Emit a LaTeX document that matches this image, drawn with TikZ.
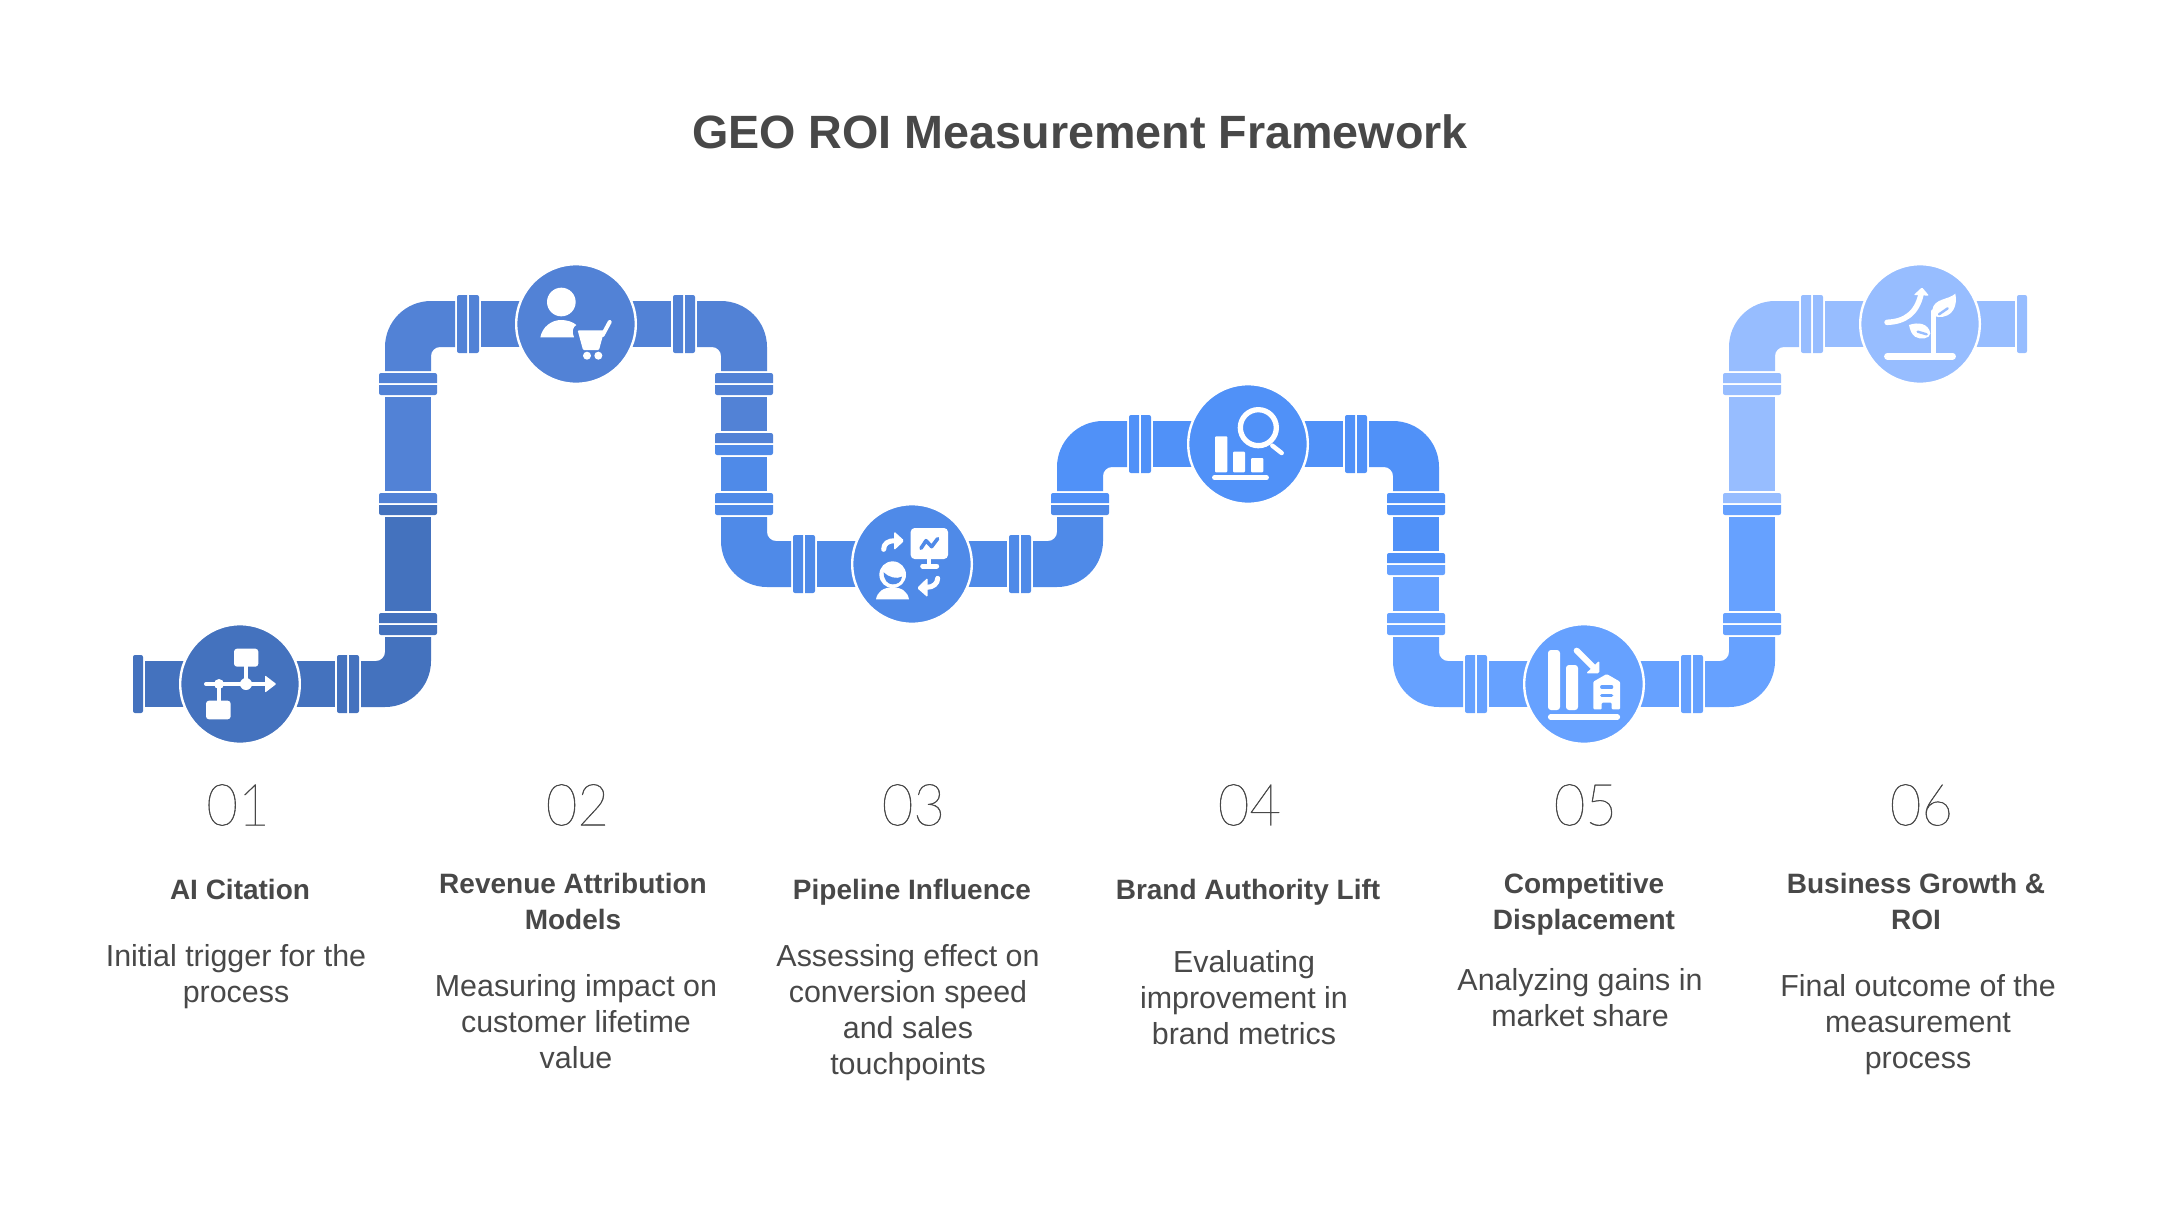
\documentclass[tikz,border=0pt]{standalone}
\usepackage{fontspec}
\setmainfont{Liberation Sans}
\newfontfamily\numfont[FakeStretch=0.94,RawFeature={embolden=0.7}]{Lato Thin}
\definecolor{ca}{HTML}{4472BE}
\definecolor{cb}{HTML}{5282D6}
\definecolor{cc}{HTML}{4F8AE8}
\definecolor{cd}{HTML}{5091F8}
\definecolor{ce}{HTML}{66A1FF}
\definecolor{cf}{HTML}{97BDFF}
\definecolor{ink}{HTML}{484848}
\newcommand{\elbow}[5]{\begin{scope}[shift={(#1,#2)},xscale=#3,yscale=#4]
\fill[#5] (-47,23) -- (-23,23) .. controls (2.4,23) and (23,2.4) .. (23,-23) -- (23,-47) -- (-23,-47) -- (-23,-32) .. controls (-23,-27) and (-27,-23) .. (-32,-23) -- (-47,-23) -- cycle;
\end{scope}}
\newcommand{\vfl}[4]{\begin{scope}[shift={(#1,#2)}]
\fill[#3] (-29,10) [rounded corners=2pt] -- (-29,0) -- (29,0) [sharp corners] -- (29,10) -- cycle;
\fill[#4] (-29,12) [rounded corners=2pt] -- (-29,22) -- (29,22) [sharp corners] -- (29,12) -- cycle;
\end{scope}}
\newcommand{\hfl}[3]{\begin{scope}[shift={(#1,#2)}]
\fill[#3] (10,-29) [rounded corners=2pt] -- (0,-29) -- (0,29) [sharp corners] -- (10,29) -- cycle;
\fill[#3] (12,-29) [rounded corners=2pt] -- (22,-29) -- (22,29) [sharp corners] -- (12,29) -- cycle;
\end{scope}}
\newcommand{\vp}[4]{\fill[#4] (#1-23,#2) rectangle (#1+23,#3);}
\newcommand{\hp}[3]{\fill[#3] (#1-95,#2-23) rectangle (#1+95,#2+23);}
\tikzset{hub/.style={circle,minimum size=119.6pt,inner sep=0pt,line width=2.4pt,draw=white},
 titletext/.style={font=\bfseries\fontsize{46.7}{52}\selectfont,text=ink,align=center},
 numtext/.style={font=\numfont\fontsize{58}{62}\selectfont,text=ink},
 headtext/.style={font=\bfseries\fontsize{28}{36}\selectfont,text=ink,align=center,inner sep=0pt,execute at begin node=\strut,execute at end node=\strut},
 bodytext/.style={font=\fontsize{30.4}{36}\selectfont,text=ink,align=center,inner sep=0pt,execute at begin node=\strut,execute at end node=\strut},
 ic/.style={white,line cap=round,line join=round}}
\begin{document}
\begin{tikzpicture}[x=1pt,y=-1pt]
\useasboundingbox (0,0) rectangle (2160,1224);
\node[titletext] (title) at (1080,132) {GEO ROI Measurement Framework};
% pipes
\hp{240}{684}{ca}\hp{576}{324}{cb}\hp{912}{564}{cc}\hp{1248}{444}{cd}\hp{1584}{684}{ce}\hp{1920}{324}{cf}
\fill[white] (130,650) rectangle (144.5,720);
\fill[ca,rounded corners=2pt] (133,655) rectangle (143,713);
\fill[ca] (133,661) rectangle (143,707);
\fill[cf,rounded corners=2pt] (2017,295) rectangle (2027,353);
\elbow{408}{684}{1}{1}{ca}\elbow{408}{324}{-1}{-1}{cb}
\elbow{744}{324}{1}{-1}{cb}\elbow{744}{564}{-1}{1}{cc}
\elbow{1080}{564}{1}{1}{cc}\elbow{1080}{444}{-1}{-1}{cd}
\elbow{1416}{444}{1}{-1}{cd}\elbow{1416}{684}{-1}{1}{ce}
\elbow{1752}{684}{1}{1}{ce}\elbow{1752}{324}{-1}{-1}{cf}
\vp{408}{517}{611}{ca}\vp{408}{397}{491}{cb}
\vp{744}{397}{431}{cb}\vp{744}{457}{491}{cc}
\vp{1416}{517}{551}{cd}\vp{1416}{577}{611}{ce}
\vp{1752}{517}{611}{ce}\vp{1752}{397}{491}{cf}
\vfl{408}{613}{ca}{ca}\vfl{408}{493}{cb}{ca}\vfl{408}{373}{cb}{cb}
\vfl{744}{373}{cb}{cb}\vfl{744}{433}{cb}{cc}\vfl{744}{493}{cc}{cc}
\vfl{1080}{493}{cd}{cc}
\vfl{1416}{493}{cd}{cd}\vfl{1416}{553}{cd}{ce}\vfl{1416}{613}{ce}{ce}
\vfl{1752}{613}{ce}{ce}\vfl{1752}{493}{cf}{ce}\vfl{1752}{373}{cf}{cf}
\hfl{337}{684}{ca}\hfl{457}{324}{cb}\hfl{673}{324}{cb}\hfl{793}{564}{cc}\hfl{1009}{564}{cc}
\hfl{1129}{444}{cd}\hfl{1345}{444}{cd}\hfl{1465}{684}{ce}\hfl{1681}{684}{ce}\hfl{1801}{324}{cf}
% hubs
\node[hub,fill=ca] (hubA) at (240,684) {};
\node[hub,fill=cb] (hubB) at (576,324) {};
\node[hub,fill=cc] (hubC) at (912,564) {};
\node[hub,fill=cd] (hubD) at (1248,444) {};
\node[hub,fill=ce] (hubE) at (1584,684) {};
\node[hub,fill=cf] (hubF) at (1920,324) {};
% icon 1
\begin{scope}[shift={(170,610)},scale=1/3]
\fill[ic,rounded corners=3pt] (192,116) rectangle (265,170);
\fill[ic,rounded corners=3pt] (108,272) rectangle (182,328);
\draw[ic,line width=4pt] (108,222) -- (288,222);
\draw[ic,line width=4pt] (228,170) -- (228,222);
\draw[ic,line width=4pt] (147,222) -- (147,272);
\fill[white] (147,222) circle[radius=15];
\fill[white] (228,222) circle[radius=18];
\fill[white,rounded corners=1pt] (285,196) -- (319,222) -- (285,248) -- cycle;
\end{scope}
% icon 2
\begin{scope}[shift={(505,255)},scale=1/3]
\fill[white] (169,141) circle[radius=43];
\fill[ic] (106,247) .. controls (112,215) and (140,195) .. (168,195) .. controls (185,195) and (203,200) .. (214,210) .. controls (203,215) and (200,232) .. (207,247) -- cycle;
\fill[ic,rounded corners=1pt] (218,226) -- (298,226) -- (282,285) -- (234,285) -- cycle;
\draw[ic,line width=4pt] (293,240) -- (314,201);
\fill[white] (246,302) circle[radius=12];
\fill[white] (280,302) circle[radius=12];
\end{scope}
% icon 3
\begin{scope}[shift={(840,490)},scale=1/3]
\fill[ic,rounded corners=4pt] (212,114) rectangle (324,207);
\draw[cc,line width=3.6pt,line cap=round,line join=round] (243,175) -- (258,152) -- (275,170) -- (293,146);
\draw[ic,line width=4pt] (268,207) -- (268,226);
\draw[ic,line width=5pt] (248,228) -- (290,228);
\draw[ic,line width=5pt] (131,178) .. controls (131,160) and (145,152) .. (165,152);
\fill[white,rounded corners=1.5pt] (162,124) -- (193,152) -- (162,181) -- cycle;
\draw[ic,line width=5pt] (293,265) .. controls (293,280) and (280,292) .. (260,292);
\fill[white,rounded corners=1.5pt] (263,263) -- (231,294) -- (263,322) -- cycle;
\fill[white] (158,254) circle[radius=40];
\fill[cc] (131,247) .. controls (145,262) and (170,268) .. (186,260) .. controls (184,278) and (170,283) .. (158,283) .. controls (143,283) and (131,270) .. (131,247) -- cycle;
\fill[ic] (108,328) .. controls (112,305) and (130,292) .. (158,292) .. controls (185,292) and (203,305) .. (207,328) -- cycle;
\end{scope}
% icon 4
\begin{scope}[shift={(1175,375)},scale=1/3]
\fill[ic,rounded corners=1pt] (120,184) rectangle (157,292);
\fill[ic,rounded corners=1pt] (174,230) rectangle (210,292);
\fill[ic,rounded corners=1pt] (228,249) rectangle (265,292);
\draw[ic,line width=4.5pt] (118,308) -- (275,308);
\draw[white,line width=5.3pt] (250,158) circle[radius=54];
\draw[ic,line width=4.5pt] (292,212) -- (320,234);
\end{scope}
% icon 5
\begin{scope}[shift={(1510,610)},scale=1/3]
\fill[ic,rounded corners=3pt] (114,120) rectangle (150,300);
\fill[ic,rounded corners=3pt] (168,165) rectangle (204,300);
\draw[ic,line width=5.5pt] (122,321) -- (322,321);
\draw[ic,line width=6pt] (200,122) -- (250,172);
\fill[white,rounded corners=1.5pt] (268,152) -- (268,190) -- (228,190) -- cycle;
\fill[ic,rounded corners=1pt] (250,215) -- (290,192) -- (330,215) -- (330,298) -- (305,298) -- (305,278) -- (275,278) -- (275,298) -- (250,298) -- cycle;
\draw[ce,line width=3.2pt,line cap=round] (275,231) -- (305,231);
\draw[ce,line width=3.2pt,line cap=round] (275,256) -- (305,256);
\end{scope}
% icon 6
\begin{scope}[shift={(1845,255)},scale=1/3]
\draw[ic,line width=6.5pt] (127,304) -- (323,304);
\draw[ic,line width=5pt] (264,300) -- (264,170);
\draw[ic,line width=5.5pt] (126,202) .. controls (180,200) and (215,175) .. (228,118);
\fill[white,rounded corners=1pt] (206,120) -- (231,97) -- (252,122) -- cycle;
\fill[ic] (262,165) .. controls (266,130) and (310,135) .. (331,116) .. controls (338,150) and (325,188) .. (280,186) .. controls (270,185) and (262,178) .. (262,165) -- cycle;
\draw[cf,line width=2.4pt,line cap=round] (282,178) -- (308,160);
\fill[ic] (192,210) .. controls (220,200) and (250,205) .. (256,235) .. controls (255,252) and (225,255) .. (210,245) .. controls (200,238) and (195,225) .. (192,210) -- cycle;
\draw[cf,line width=2.4pt,line cap=round] (218,230) -- (245,238);
\end{scope}
% numbers
\node[numtext] (numA) at (238,805) {01};
\node[numtext] (numB) at (577.4,805) {02};
\node[numtext] (numC) at (913.4,805) {03};
\node[numtext] (numD) at (1249.4,805) {04};
\node[numtext] (numE) at (1585.4,805) {05};
\node[numtext] (numF) at (1921.4,805) {06};
% heads
\node[headtext] (headA) at (240,892) {AI Citation};
\node[headtext] (headB) at (573,906.5) {Revenue Attribution\\Models};
\node[headtext] (headC) at (912,892) {Pipeline Influence};
\node[headtext] (headD) at (1248,892) {Brand Authority Lift};
\node[headtext] (headE) at (1584,906.5) {Competitive\\Displacement};
\node[headtext] (headF) at (1916,906.5) {Business Growth \&\\ROI};
% bodies
\node[bodytext] (bodyA) at (236,978.5) {Initial trigger for the\\process};
\node[bodytext] (bodyB) at (576,1026.5) {Measuring impact on\\customer lifetime\\value};
\node[bodytext] (bodyC) at (908,1014.5) {Assessing effect on\\conversion speed\\and sales\\touchpoints};
\node[bodytext] (bodyD) at (1244,1002.5) {Evaluating\\improvement in\\brand metrics};
\node[bodytext] (bodyE) at (1580,1002.5) {Analyzing gains in\\market share};
\node[bodytext] (bodyF) at (1918,1026.5) {Final outcome of the\\measurement\\process};
\end{tikzpicture}
\end{document}
